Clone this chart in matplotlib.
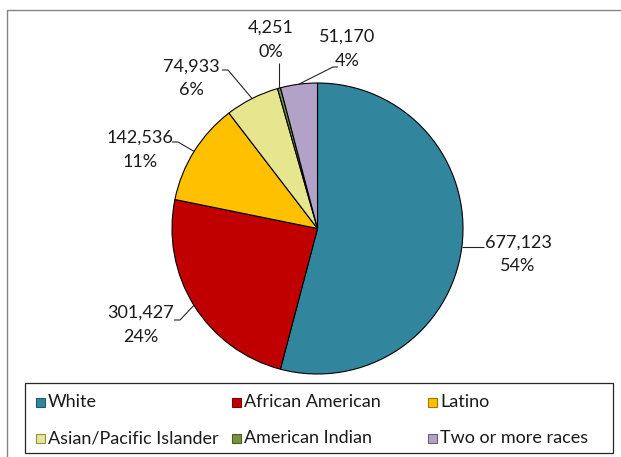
import matplotlib.pyplot as plt
from matplotlib.patches import Rectangle
import numpy as np

plt.rcParams["font.family"] = ["Lato", "DejaVu Sans"]

categories = ["White", "African American", "Latino",
              "Asian/Pacific Islander", "American Indian", "Two or more races"]
values = [677123, 301427, 142536, 74933, 4251, 51170]
colors = ["#31859C", "#C00000", "#FFC000", "#E6E68F", "#77933C", "#B3A2C7"]
edge_colors = ["#1F5A6A", "#800000", "#A07800", "#8F8F50", "#4A5E24", "#706080"]

W, H = 621, 457
FS = 13

# layout (pixel coords, y measured from top): label centre x, value-line y, percent-line y
label_x = [518, 141, 140, 191, 271, 347]
label_y = [(243, 266), (313, 337), (138, 162), (67, 90), (28, 52), (37, 61)]
elbow_pos = [(484, None), (180, 320), (178, 142), (228, 70), (None, 63), (333, 67)]
text_side = ["right", "left", "left", "left", "top", "right"]


def px(x, y):
    return x, H - y


fig = plt.figure(figsize=(W / 100, H / 100), dpi=100)
ax = fig.add_axes([0, 0, 1, 1])

cx, cy = px(317.5, 228.5)
r = 145.5
wedges, _ = ax.pie(values, colors=colors, startangle=90, counterclock=False,
                   center=(cx, cy), radius=r, frame=True,
                   wedgeprops=dict(edgecolor="black", linewidth=0.8))
ax.set_xlim(0, W)
ax.set_ylim(0, H)
ax.set_aspect("equal")
ax.axis("off")

# chart area border
ax.add_patch(Rectangle(px(7, 462), 630, 452, fill=False, edgecolor="#868686", linewidth=1.0))

total = sum(values)
for i, w in enumerate(wedges):
    mid = np.deg2rad((w.theta1 + w.theta2) / 2)
    ex, ey = cx + r * np.cos(mid), cy + r * np.sin(mid)
    bx, by = elbow_pos[i]
    if text_side[i] == "right":
        if by is None:
            pts = [(ex, ey), (bx, ey)]
        else:
            pts = [(ex, ey), px(bx, by), px(bx + 5, by)]
    elif text_side[i] == "left":
        pts = [(ex, ey), px(bx, by), px(bx - 6, by)]
    else:
        pts = [(ex, ey), (ex, H - by)]
    xs, ys = zip(*pts)
    ax.plot(xs, ys, color="#262626", linewidth=0.8, solid_capstyle="butt")
    pct = round(values[i] / total * 100)
    y1, y2 = label_y[i]
    ax.text(*px(label_x[i], y1), f"{values[i]:,}", ha="center", va="center",
            fontsize=FS, color="#1a1a1a")
    ax.text(*px(label_x[i], y2), f"{pct}%", ha="center", va="center",
            fontsize=FS, color="#1a1a1a")

# legend box
ax.add_patch(Rectangle(px(25, 453), 588, 70, fill=False, edgecolor="#262626", linewidth=0.9))
col_x = [36, 232, 428]
row_y = [402, 438]
for i, (name, c, ec) in enumerate(zip(categories, colors, edge_colors)):
    x0 = col_x[i % 3]
    y0 = row_y[i // 3]
    ax.add_patch(Rectangle(px(x0, y0 + 4.5), 9, 9, facecolor=c, edgecolor=ec, linewidth=0.8))
    ax.text(*px(x0 + 12, y0), name, ha="left", va="center", fontsize=FS, color="#1a1a1a")

fig.savefig("out.png", dpi=100, facecolor="white")
